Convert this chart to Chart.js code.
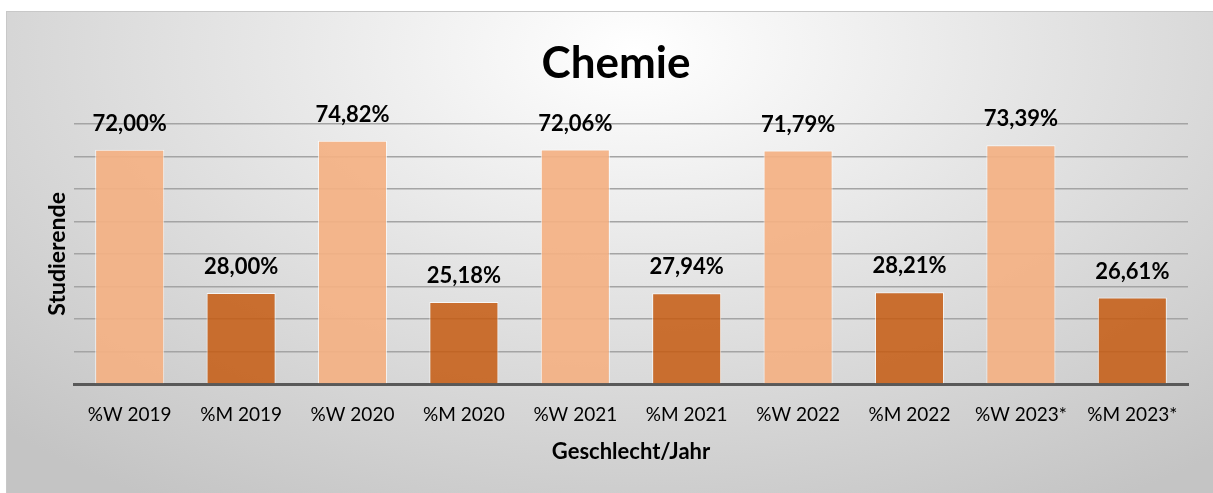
<!DOCTYPE html>
<html>
<head>
<meta charset="utf-8">
<script src="https://cdn.jsdelivr.net/npm/chart.js@4.4.0/dist/chart.umd.min.js"></script>
<style>
  html, body { margin: 0; padding: 0; background: #ffffff; }
  #box {
    position: absolute; left: 6px; top: 11px; width: 1207px; height: 482px;
    border-top: 1px solid #c8c8c8; border-left: 1px solid #c8c8c8;
    box-sizing: border-box;
    background: radial-gradient(ellipse 75% 110% at 52% 8%, #ffffff 0%, #e4e4e4 45%, #c4c4c4 100%);
  }
  #box canvas { display: block; }
</style>
</head>
<body>
<div id="box"><canvas id="chemieChart"></canvas></div>
<script>
// Chart data
const categories = ['%W 2019', '%M 2019', '%W 2020', '%M 2020', '%W 2021', '%M 2021', '%W 2022', '%M 2022', '%W 2023*', '%M 2023*'];
const shares = [72.00, 28.00, 74.82, 25.18, 72.06, 27.94, 71.79, 28.21, 73.39, 26.61];
const yTicks = [0, 10, 20, 30, 40, 50, 60, 70, 80];

const lightOrange = 'rgba(244, 177, 131, 0.92)';
const darkOrange = 'rgba(197, 90, 17, 0.85)';
const fontFamily = 'Lato, "Open Sans", sans-serif';

// draws the value above each bar, German decimal comma
const valueLabels = {
    id: 'valueLabels',
    afterDatasetsDraw(chart) {
        const ctx = chart.ctx;
        const meta = chart.getDatasetMeta(0);
        ctx.save();
        ctx.font = 'bold 22px ' + fontFamily;
        ctx.fillStyle = '#000000';
        ctx.textAlign = 'center';
        ctx.textBaseline = 'middle';
        meta.data.forEach((bar, i) => {
            const txt = shares[i].toFixed(2).replace('.', ',') + '%';
            ctx.fillText(txt, bar.x, bar.y - 26);
        });
        ctx.restore();
    }
};

const ctx = document.getElementById('chemieChart').getContext('2d');
new Chart(ctx, {
    type: 'bar',
    data: {
        labels: categories,
        datasets: [{
            label: 'Studierende',
            data: shares,
            backgroundColor: categories.map((c, i) => i % 2 === 0 ? lightOrange : darkOrange),
            borderColor: 'rgba(255, 255, 255, 0.75)',
            borderWidth: 1,
            barPercentage: 0.62,
            categoryPercentage: 1.0,
        }],
    },
    options: {
        responsive: true,
        maintainAspectRatio: false,
        animation: false,
        layout: { padding: { left: 37, right: 25, top: 0, bottom: 0 } },
        plugins: {
            legend: { display: false },
            tooltip: { enabled: false },
            title: {
                display: true,
                text: 'Chemie',
                color: '#000000',
                font: { family: fontFamily, size: 44, weight: 'bold' },
                padding: { top: 25, bottom: 34 },
            },
        },
        scales: {
            x: {
                grid: { display: false, drawTicks: false },
                border: { display: true, color: '#595959', width: 3 },
                ticks: {
                    color: '#000000',
                    font: { family: fontFamily, size: 19 },
                    padding: 19,
                    maxRotation: 0,
                    autoSkip: false,
                },
                title: {
                    display: true,
                    text: 'Geschlecht/Jahr',
                    color: '#000000',
                    font: { family: fontFamily, size: 22, weight: 'bold' },
                    padding: { top: 0, bottom: 28 },
                },
                afterFit(scale) { scale.height = 109; },
            },
            y: {
                min: 0,
                max: 80,
                afterBuildTicks(scale) { scale.ticks = yTicks.map(v => ({ value: v })); },
                grid: { color: '#a4a4a4', lineWidth: 1.5, drawTicks: false },
                border: { display: false },
                ticks: { display: false },
                title: {
                    display: true,
                    text: 'Studierende',
                    color: '#000000',
                    font: { family: fontFamily, size: 23, weight: 'bold' },
                    padding: { top: 0, bottom: 0 },
                },
                afterFit(scale) { scale.width = 30; },
            },
        },
    },
    plugins: [valueLabels],
});
</script>
</body>
</html>
